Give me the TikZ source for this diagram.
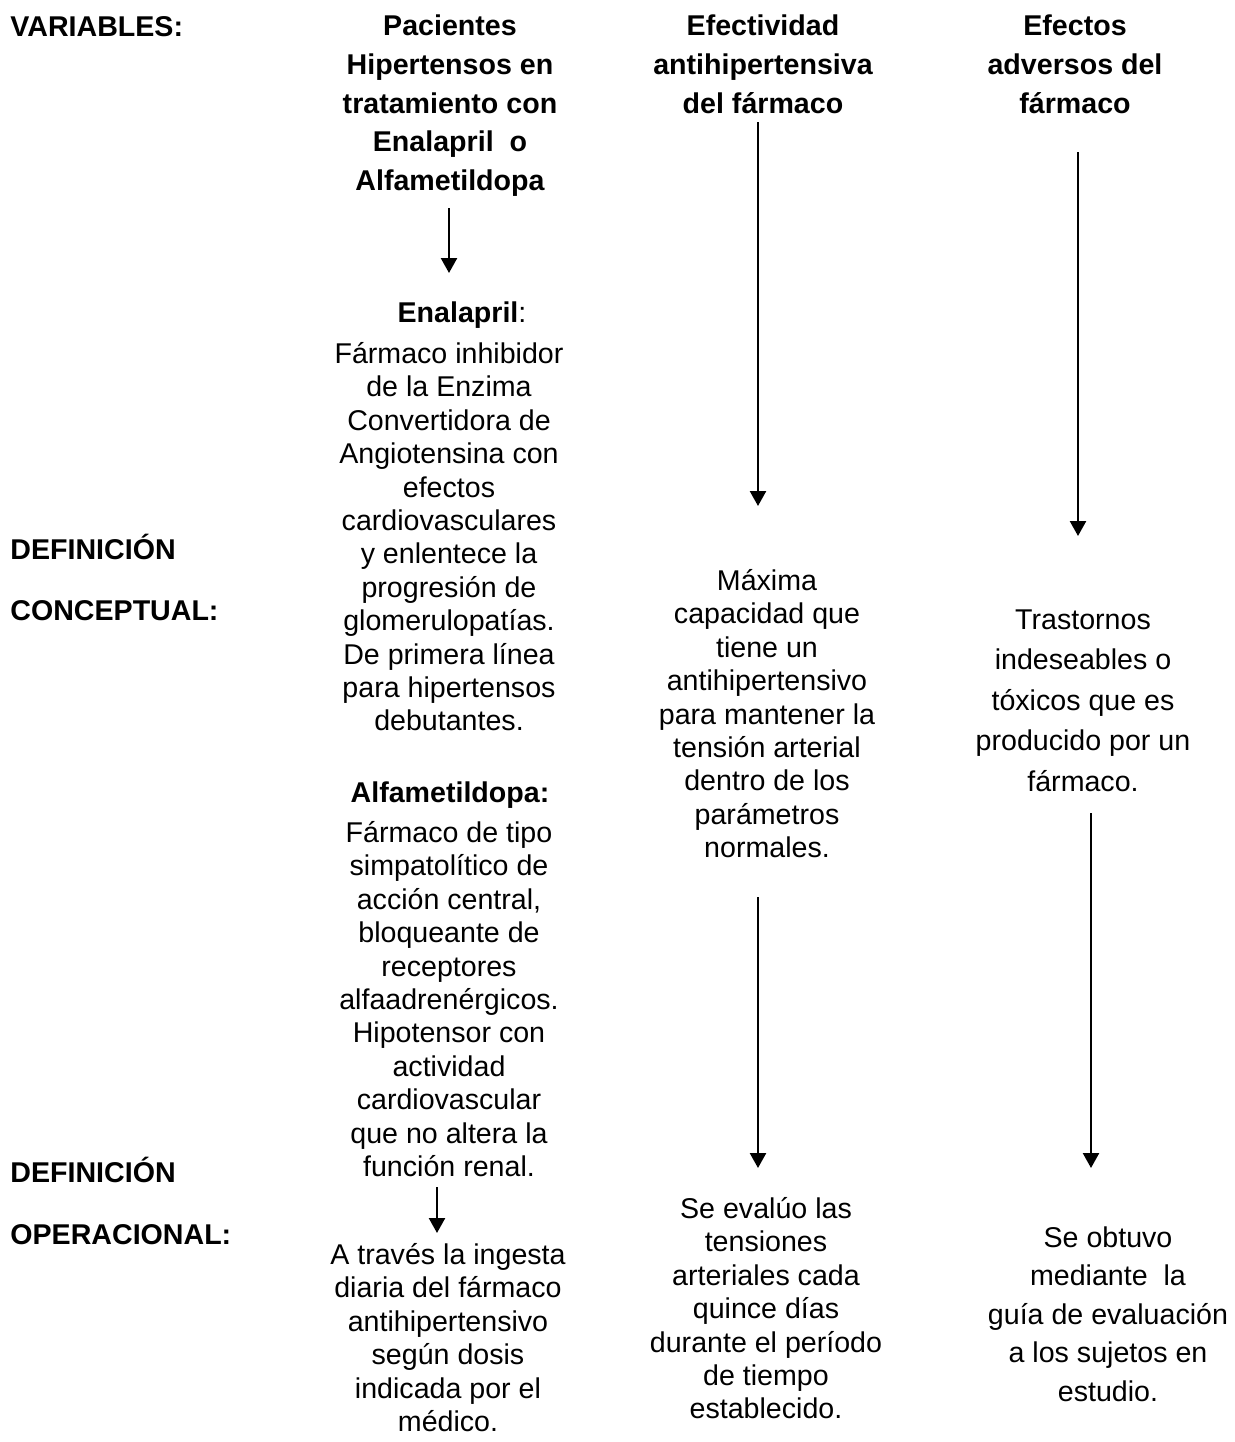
\documentclass[tikz,border=0pt]{standalone}
\usepackage{fontspec}
\setmainfont{Liberation Sans}
\usetikzlibrary{arrows.meta}
\newcommand\firstln{\rule{0pt}{14pt}}
\begin{document}
\begin{tikzpicture}[x=0.5pt,y=-0.5pt,
  txt/.style={anchor=north,inner sep=0pt,align=center},
  body/.style={txt,font=\fontsize{14.3}{16.7}\selectfont},
  head/.style={txt,font=\bfseries\fontsize{14.3}{19.4}\selectfont},
  lab/.style={anchor=base west,inner sep=0pt,font=\bfseries\fontsize{14.3}{16.7}\selectfont},
  arr/.style={line width=1.2pt,-{Triangle[length=7.5pt,width=8pt]}}]
\useasboundingbox[fill=white] (0,0) rectangle (1235,1442);

% left labels
\node[lab] (var) at (10,36) {VARIABLES:};
\node[lab] (dc1) at (10,559) {DEFINICIÓN};
\node[lab] (dc2) at (10,620) {CONCEPTUAL:};
\node[lab] (do1) at (10,1182) {DEFINICIÓN};
\node[lab] (do2) at (10,1244) {OPERACIONAL:};

% headers
\node[head] (h1) at (450,7) {\firstln Pacientes\\Hipertensos en\\tratamiento con\\Enalapril\ \ o\\Alfametildopa};
\node[head] (h2) at (763,7) {\firstln Efectividad\\antihipertensiva\\del fármaco};
\node[head] (h3) at (1075,7) {\firstln Efectos\\adversos del\\fármaco};

% column 1
\node[body] (enal) at (462,294) {\firstln\textbf{Enalapril}:};
\node[body] (enald) at (449,335) {\firstln Fármaco inhibidor\\de la Enzima\\Convertidora de\\Angiotensina con\\efectos\\cardiovasculares\\y enlentece la\\progresión de\\glomerulopatías.\\De primera línea\\para hipertensos\\debutantes.};
\node[body] (alfa) at (450,774) {\firstln\textbf{Alfametildopa:}};
\node[body] (alfad) at (449,814) {\firstln Fármaco de tipo\\simpatolítico de\\acción central,\\bloqueante de\\receptores\\alfaadrenérgicos.\\Hipotensor con\\actividad\\cardiovascular\\que no altera la\\función renal.};
\node[body] (op1) at (448,1236) {\firstln A través la ingesta\\diaria del fármaco\\antihipertensivo\\según dosis\\indicada por el\\médico.};

% column 2
\node[body] (c2) at (767,562) {\firstln Máxima\\capacidad que\\tiene un\\antihipertensivo\\para mantener la\\tensión arterial\\dentro de los\\parámetros\\normales.};
\node[body] (o2) at (766,1190) {\firstln Se evalúo las\\tensiones\\arteriales cada\\quince días\\durante el período\\de tiempo\\establecido.};

% column 3
\node[body,font=\fontsize{14.3}{20.25}\selectfont] (c3) at (1083,601) {\firstln Trastornos\\indeseables o\\tóxicos que es\\producido por un\\fármaco.};
\node[body,font=\fontsize{14.3}{19.25}\selectfont] (o3) at (1108,1219) {\firstln Se obtuvo\\mediante\ \ la\\guía de evaluación\\a los sujetos en\\estudio.};

% arrow end points
\coordinate (a1s) at (449,208);  \coordinate (a1e) at (449,273);
\coordinate (b1s) at (437,1187); \coordinate (b1e) at (437,1233);
\coordinate (a2s) at (758,122);  \coordinate (a2e) at (758,506);
\coordinate (b2s) at (758,897);  \coordinate (b2e) at (758,1168);
\coordinate (a3s) at (1078,152); \coordinate (a3e) at (1078,536);
\coordinate (b3s) at (1091,813); \coordinate (b3e) at (1091,1168);

\draw[arr] (a1s) -- (a1e);
\draw[arr] (b1s) -- (b1e);
\draw[arr] (a2s) -- (a2e);
\draw[arr] (b2s) -- (b2e);
\draw[arr] (a3s) -- (a3e);
\draw[arr] (b3s) -- (b3e);
\end{tikzpicture}
\end{document}
